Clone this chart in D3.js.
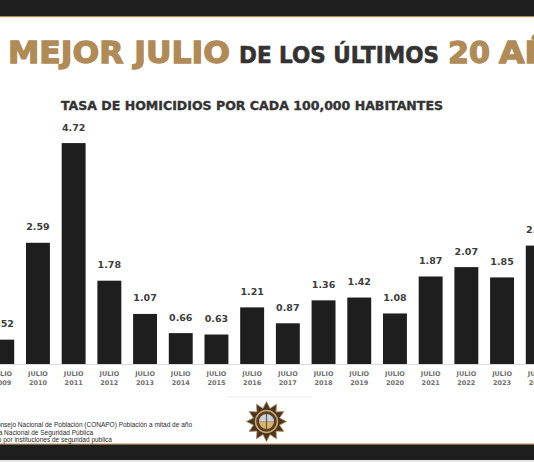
<!DOCTYPE html>
<meta charset="utf-8">
<html>
  <head>
    <style>
      body { margin: 0; background: #fff; }
      text.val { font-family: "DejaVu Sans", sans-serif; font-weight: bold; font-size: 9.5px; fill: #3d3d3d; }
      .xaxis text { font-family: "DejaVu Sans", sans-serif; font-weight: bold; font-size: 6.5px; fill: #707070; }
      text.note { font-family: "Liberation Sans", sans-serif; font-size: 6.5px; fill: #2a2a2a; }
    </style>
    <script src="https://d3js.org/d3.v7.min.js"></script>
  </head>
  <body>
    <div id="chart"></div>
    <script type="text/javascript">
      var width = 534, height = 462,
          gold = "#b08a57",
          dark = "#1e1e1e";

      var years = ["2009", "2010", "2011", "2012", "2013", "2014", "2015", "2016",
                   "2017", "2018", "2019", "2020", "2021", "2022", "2023", "2024"],
          rates = [0.52, 2.59, 4.72, 1.78, 1.07, 0.66, 0.63, 1.21,
                   0.87, 1.36, 1.42, 1.08, 1.87, 2.07, 1.85, 2.53],
          monthLabel = "JULIO",
          notes = ["Fuente: Consejo Nacional de Población (CONAPO) Población a mitad de año",
                   "Secretariado Ejecutivo del Sistema Nacional de Seguridad Pública",
                   "Reportado por instituciones de seguridad publica"];

      var svg = d3.select("#chart").append("svg")
          .attr("width", width)
          .attr("height", height);

      svg.append("rect").attr("width", width).attr("height", height).attr("fill", "#fff");

      // top and bottom bands
      svg.append("rect").attr("x", 0).attr("y", 0).attr("width", width).attr("height", 16).attr("fill", dark);
      svg.append("rect").attr("x", 0).attr("y", 16).attr("width", width).attr("height", 1.2).attr("fill", gold);
      svg.append("rect").attr("x", 0).attr("y", 444).attr("width", width).attr("height", 16).attr("fill", dark);
      svg.append("rect").attr("x", 0).attr("y", 443.5).attr("width", width).attr("height", 1.2).attr("fill", gold);
      svg.append("rect").attr("x", 0).attr("y", 460).attr("width", width).attr("height", 2).attr("fill", "#e6e6e6");

      // title
      var title = svg.append("text")
          .attr("y", 63)
          .style("font-family", "'DejaVu Sans', sans-serif")
          .style("font-weight", "bold");
      title.append("tspan").attr("x", 8).attr("font-size", 31).attr("fill", gold)
          .attr("stroke", gold).attr("stroke-width", 1.3)
          .attr("textLength", 222).attr("lengthAdjust", "spacingAndGlyphs").text("MEJOR JULIO");
      title.append("tspan").attr("x", 239).attr("font-size", 23).attr("fill", "#333")
          .attr("stroke", "#333").attr("stroke-width", 0.6)
          .attr("textLength", 200).attr("lengthAdjust", "spacingAndGlyphs").text("DE LOS ÚLTIMOS");
      title.append("tspan").attr("x", 448).attr("font-size", 31).attr("fill", gold)
          .attr("stroke", gold).attr("stroke-width", 1.3)
          .attr("textLength", 42).attr("lengthAdjust", "spacingAndGlyphs").text("20");
      title.append("tspan").attr("x", 499).attr("font-size", 31).attr("fill", gold)
          .attr("stroke", gold).attr("stroke-width", 1.3)
          .attr("textLength", 105).attr("lengthAdjust", "spacingAndGlyphs").text("AÑOS");

      svg.append("text")
          .attr("x", 61).attr("y", 109.5)
          .attr("textLength", 382).attr("lengthAdjust", "spacingAndGlyphs")
          .style("font-family", "'DejaVu Sans', sans-serif")
          .style("font-weight", "bold")
          .style("font-size", "11.5px")
          .attr("fill", "#333").attr("stroke", "#333").attr("stroke-width", 0.35)
          .text("TASA DE HOMICIDIOS POR CADA 100,000 HABITANTES");

      // scales
      var x = d3.scaleBand()
          .domain(years)
          .range([-15.6, 555.6])
          .paddingInner(0.33)
          .paddingOuter(0.165);

      var y = d3.scaleLinear()
          .domain([0, 5])
          .range([364, 364 - 234]);

      var data = years.map(function(d, i) { return { year: d, value: rates[i] }; });

      // baseline axis
      var xAxis = svg.append("g")
          .attr("class", "xaxis")
          .attr("transform", "translate(0," + y(0) + ")")
          .call(d3.axisBottom(x).tickSize(0).tickSizeOuter(0));
      xAxis.select(".domain").attr("stroke", "#d0d0d0").attr("stroke-width", 0.8);
      xAxis.selectAll(".tick text").each(function(d) {
        var t = d3.select(this).text(null).attr("y", 0).attr("dy", null);
        t.append("tspan").attr("x", 0).attr("y", 12).text(monthLabel);
        t.append("tspan").attr("x", 0).attr("y", 20.5).text(d);
      });

      svg.selectAll(".bar")
          .data(data)
          .enter().append("rect")
            .attr("class", "bar")
            .attr("x", function(d) { return x(d.year); })
            .attr("y", function(d) { return y(d.value); })
            .attr("width", x.bandwidth())
            .attr("height", function(d) { return y(0) - y(d.value); })
            .attr("fill", dark);

      svg.selectAll(".val")
          .data(data)
          .enter().append("text")
            .attr("class", "val")
            .attr("x", function(d) { return x(d.year) + x.bandwidth() / 2; })
            .attr("y", function(d) { return y(d.value) - 12.5; })
            .style("text-anchor", "middle")
            .text(function(d) { return d.value.toFixed(2); });

      // faint separator
      svg.append("line").attr("x1", 227).attr("x2", 312).attr("y1", 397).attr("y2", 397)
          .attr("stroke", "#ececec").attr("stroke-width", 1);

      // notes
      var noteEnds = [192, 93, 112];
      svg.selectAll(".note")
          .data(notes)
          .enter().append("text")
            .attr("class", "note")
            .attr("x", function(d, i) { return noteEnds[i]; })
            .attr("y", function(d, i) { return 427 + i * 7.6; })
            .style("text-anchor", "end")
            .text(function(d) { return d; });

      // badge
      var badge = svg.append("g").attr("transform", "translate(266.5,421.5)");
      var pts = d3.range(24).map(function(i) {
        var a = i * Math.PI / 12 - Math.PI / 2, r = i % 2 ? 13.5 : 20;
        return [r * Math.cos(a), r * Math.sin(a)];
      });
      badge.append("polygon")
          .attr("points", pts.map(function(p) { return p.join(","); }).join(" "))
          .attr("fill", "#4b3521").attr("stroke", gold).attr("stroke-width", 0.8);
      badge.append("circle").attr("r", 11).attr("fill", "#5a3f26").attr("stroke", "#c9a66b").attr("stroke-width", 1.5);
      badge.append("path")
          .attr("d", d3.arc().innerRadius(0).outerRadius(7.5)({ startAngle: -Math.PI / 2, endAngle: Math.PI / 2 }))
          .attr("fill", "#c9d3dc");
      badge.append("path")
          .attr("d", d3.arc().innerRadius(0).outerRadius(7.5)({ startAngle: Math.PI / 2, endAngle: 3 * Math.PI / 2 }))
          .attr("fill", "#d8b46e");
      badge.append("line").attr("x1", 0).attr("x2", 0).attr("y1", -7.5).attr("y2", 7.5)
          .attr("stroke", "#6b5a44").attr("stroke-width", 1.2);
    </script>
  </body>
</html>
